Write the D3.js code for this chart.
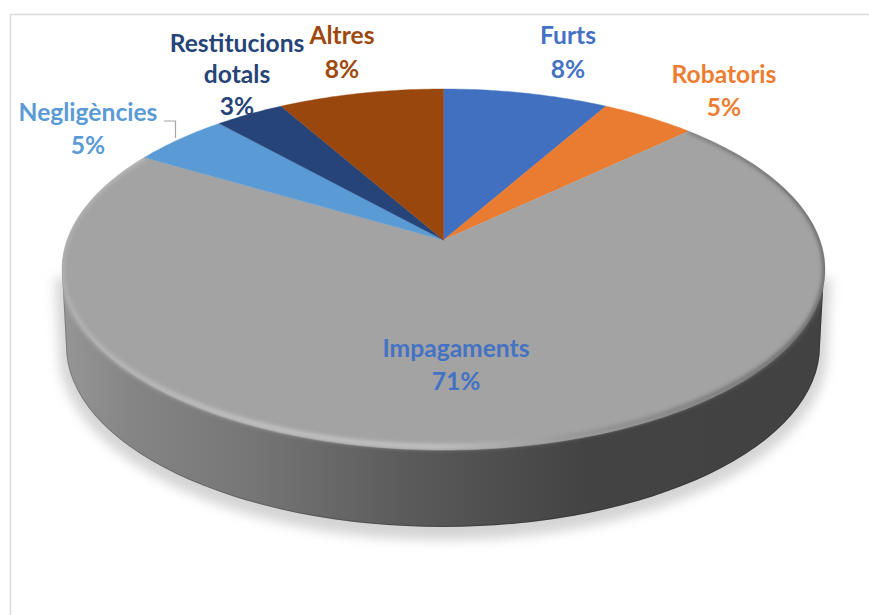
<!DOCTYPE html>
<html>
<head>
<meta charset="utf-8">
<title>Pie 3D</title>
<style>
html, body { margin: 0; padding: 0; background: #fff; }
svg { display: block; }
text { font-family: Lato, "Open Sans", sans-serif; font-weight: 700; font-size: 24.6px; text-anchor: middle; }
</style>
</head>
<body>
<svg width="869" height="615"></svg>
<script src="https://cdnjs.cloudflare.com/ajax/libs/d3/7.8.5/d3.min.js"></script>
<script>
// slices, clockwise from 12 o'clock
var categories = ['Furts', 'Robatoris', 'Impagaments', 'Negligències', 'Restitucions dotals', 'Altres'];
var shares = [8.2, 4.7, 70.6, 4.85, 3.45, 8.2];
var percentLabels = ['8%', '5%', '71%', '5%', '3%', '8%'];
var sliceColors = ['#4270c0', '#e97c30', '#a3a3a3', '#5b9bd5', '#264478', '#9a470d'];
var textColors = ['#4472c4', '#ed7d31', '#4472c4', '#5b9bd5', '#264478', '#9e480e'];

var svg = d3.select('svg');
var defs = svg.append('defs');

// perspective of the disc: apex at (cx, cy), w shrinks the back half
var cx = 443.5, cy = 240, A = 376.4, B = 175.7, k = -0.1634;
function project(t) {
  var u = Math.sin(t), v = -Math.cos(t), w = 1 + k * v;
  return [cx + A * u / w, cy + B * v / w];
}
function rim(t0, t1) {
  var n = Math.max(2, Math.ceil((t1 - t0) * 60));
  return d3.range(n + 1).map(function(i) { return project(t0 + (t1 - t0) * i / n); });
}
var line = d3.line();

var pie = d3.pie().sort(null).value(function(d) { return d; });
var arcs = pie(shares);

// frame
svg.append('path').attr('d', 'M10.5,615V14.5H869').attr('fill', 'none')
  .attr('stroke', '#dcdcdc').attr('stroke-width', 1.6);

// wall outline, bottom ellipse of the drum
var wallCx = 443, wallCy = 346, wallRx = 377, wallRy = 181;
function wallPath(grow) {
  var rx = wallRx + grow, ry = wallRy + grow;
  return 'M' + (wallCx - rx - 4) + ',272' +
    'L' + (wallCx - rx) + ',' + wallCy +
    'A' + rx + ',' + ry + ' 0 0 0 ' + (wallCx + rx) + ',' + wallCy +
    'L' + (wallCx + rx + 4) + ',272Z';
}

defs.append('filter').attr('id', 'shadowBlur').attr('x', '-10%').attr('y', '-10%').attr('width', '120%').attr('height', '120%')
  .append('feGaussianBlur').attr('stdDeviation', 6);
defs.append('filter').attr('id', 'rimBlur').attr('filterUnits', 'userSpaceOnUse')
  .attr('x', 0).attr('y', 0).attr('width', 869).attr('height', 615)
  .append('feGaussianBlur').attr('stdDeviation', 2);

var discClip = defs.append('clipPath').attr('id', 'discClip');
discClip.append('path').attr('d', line(rim(0, 2 * Math.PI)) + 'Z');
discClip.append('path').attr('d', wallPath(0));

svg.append('path').attr('d', wallPath(7)).attr('transform', 'translate(0,6)')
  .attr('fill', '#d4d4d4').attr('filter', 'url(#shadowBlur)');

// wall shading runs left to right
var wallStops = [[62, '#969696'], [130, '#858585'], [250, '#767676'], [400, '#5c5c5c'], [500, '#4e4e4e'], [590, '#434343'], [825, '#424242']];
var wallGrad = defs.append('linearGradient').attr('id', 'wallGrad').attr('gradientUnits', 'userSpaceOnUse')
  .attr('x1', 62).attr('x2', 825).attr('y1', 0).attr('y2', 0);
wallStops.forEach(function(s) {
  wallGrad.append('stop').attr('offset', (s[0] - 62) / 763).attr('stop-color', s[1]);
});
svg.append('path').attr('d', wallPath(0)).attr('fill', 'url(#wallGrad)');
svg.append('path').attr('d', wallPath(0)).attr('fill', 'none')
  .attr('stroke', '#000').attr('stroke-opacity', 0.18).attr('stroke-width', 2)
  .attr('clip-path', 'url(#discClip)');

// top face
svg.selectAll('path.slice').data(arcs).enter().append('path')
  .attr('class', 'slice')
  .attr('fill', function(d, i) { return sliceColors[i]; })
  .attr('stroke', function(d, i) { return sliceColors[i]; })
  .attr('stroke-width', 0.4)
  .attr('d', function(d) { return line([[cx, cy]].concat(rim(d.startAngle, d.endAngle))) + 'Z'; });

// bevel along the grey slice
var rimStops = [[62, '#b4b4b4'], [250, '#cbcbcb'], [440, '#cbcbcb'], [560, '#979797'], [680, '#787878'], [825, '#5c5c5c']];
var rimGrad = defs.append('linearGradient').attr('id', 'rimGrad').attr('gradientUnits', 'userSpaceOnUse')
  .attr('x1', 62).attr('x2', 825).attr('y1', 0).attr('y2', 0);
rimStops.forEach(function(s) {
  rimGrad.append('stop').attr('offset', (s[0] - 62) / 763).attr('stop-color', s[1]);
});
var grey = arcs[2];
svg.append('g').attr('clip-path', 'url(#discClip)')
  .append('path').attr('d', line(rim(grey.startAngle, grey.endAngle).map(function(p) {
    // pushed in along the front only, the back edge stays thin
    return [p[0], p[1] - 3.5 * Math.max(0, (p[1] - 270) / 180)];
  })))
  .attr('fill', 'none').attr('stroke', 'url(#rimGrad)').attr('stroke-width', 4)
  .attr('filter', 'url(#rimBlur)');

// leader for Negligències
svg.append('path').attr('d', 'M164,121H175.5V138').attr('fill', 'none')
  .attr('stroke', '#a6a6a6').attr('stroke-width', 1.2);

// labels
var labelLayout = [
  {x: 568, y: [44, 78]},
  {x: 724, y: [83, 116]},
  {x: 456, y: [357, 390]},
  {x: 88, y: [121, 154]},
  {x: 237, y: [52, 83, 115]},
  {x: 342, y: [44, 78]}
];
categories.forEach(function(name, i) {
  var lines = name === 'Restitucions dotals' ? name.split(' ') : [name];
  lines = lines.concat(percentLabels[i]);
  var t = svg.append('text').attr('fill', textColors[i]);
  lines.forEach(function(s, j) {
    t.append('tspan').attr('x', labelLayout[i].x).attr('y', labelLayout[i].y[j]).text(s);
  });
});
</script>
</body>
</html>
